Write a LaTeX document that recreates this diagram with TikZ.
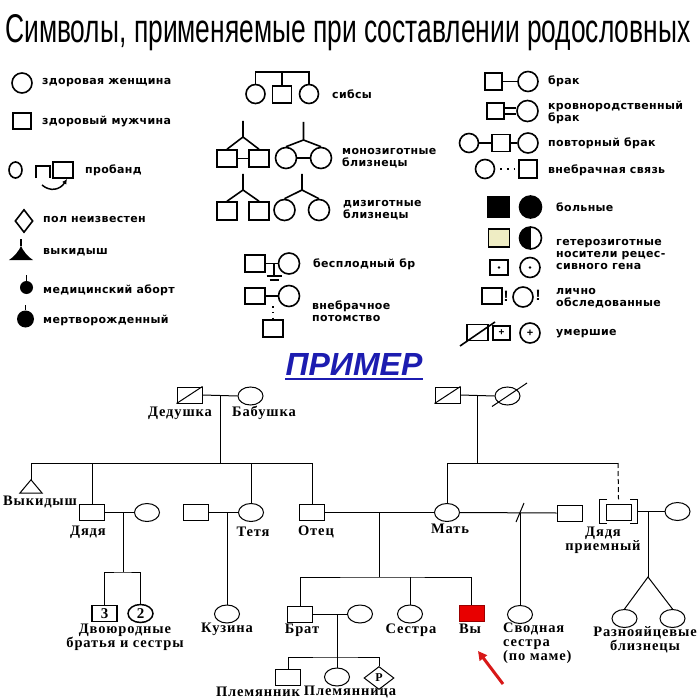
\documentclass[tikz,border=0pt]{standalone}
\usepackage{fontspec}
\usepackage{graphicx}
\usetikzlibrary{positioning,arrows.meta,shapes.geometric}
\setmainfont{Liberation Serif}
\newfontfamily\titlefont{Liberation Sans}
\newfontfamily\legendfont[LetterSpace=3]{DejaVu Sans}
\newfontfamily\pedfont[LetterSpace=6]{Liberation Serif}
\definecolor{ExBlue}{HTML}{1C1CB0}
\definecolor{YouRed}{HTML}{E80000}
\definecolor{ArrRed}{HTML}{D81818}
\definecolor{HetYellow}{HTML}{EFEDC4}

\begin{document}
\begin{tikzpicture}[x=1pt, y=-1pt,
  lgline/.style={line width=1.6pt},
  lgmale/.style={draw, line width=1.6pt, rectangle, minimum width=19pt, minimum height=17pt, inner sep=0pt},
  lgfemale/.style={draw, line width=1.6pt, circle, minimum size=20pt, inner sep=0pt},
  lgtext/.style={anchor=west, align=left, inner sep=0pt, font=\legendfont\bfseries\fontsize{11}{12}\selectfont},
  male/.style={draw, line width=1pt, rectangle, minimum width=25pt, minimum height=16pt, inner sep=0pt},
  female/.style={draw, line width=1pt, ellipse, minimum width=25pt, minimum height=18pt, inner sep=0pt},
  pedtext/.style={align=center, inner sep=0pt, font=\pedfont\bfseries\fontsize{14.5}{14}\selectfont},
  kin/.style={line width=1pt}
]
\fill[white] (0,0) rectangle (700,700);
\useasboundingbox (0,0) rectangle (700,700);

% title
\node[anchor=base west, inner sep=0pt] (title) at (5,43)
  {\resizebox{685pt}{28pt}{\titlefont Символы, применяемые при составлении родословных}};

% --- left column of symbols
\node[lgfemale] (hw) at (22,83) {};
\node[lgtext] (hwt) at (42,83) {здоровая женщина};
\node[lgmale, minimum width=18pt, minimum height=16pt] (hm) at (22,121) {};
\node[lgtext] (hmt) at (42,121) {здоровый мужчина};

\node[draw, line width=1.6pt, ellipse, minimum width=13pt, minimum height=16pt, inner sep=0pt] (pbc) at (15.5,170) {};
\node[minimum width=14pt, minimum height=12pt, inner sep=0pt] (pbb) at (43,172) {};
\draw[lgline] (pbb.south west) -- (pbb.north west) -- (pbb.north east) -- (pbb.south east);
\node[lgmale, minimum width=20pt, minimum height=16pt] (pbs) at (63,170) {};
\coordinate (pbtail) at (42,185);
\coordinate (pbhead) at (67,179);
\draw[line width=1.5pt, -{Latex[length=5pt,width=5pt]}] (pbtail) .. controls (50,192) and (60,190) .. (pbhead);
\node[lgtext] (pbt) at (85,170) {пробанд};

\node[draw, line width=1.6pt, diamond, minimum width=18pt, minimum height=23pt, inner sep=0pt] (unk) at (24,221) {};
\node[lgtext] (unkt) at (43,219) {пол неизвестен};

\node[minimum width=24pt, minimum height=14pt, inner sep=0pt] (mis) at (21,253) {};
\fill (mis.south west) .. controls (14,257) and (19,251) .. (mis.north)
  .. controls (23,251) and (28,257) .. (mis.south east) -- cycle;
\coordinate (mistop) at (21,239);
\draw[line width=1.3pt] (mis.north) -- (mistop);
\node[lgtext] (mist) at (43,252) {выкидыш};

\node[circle, fill, minimum size=13pt, inner sep=0pt] (abo) at (26.5,287.5) {};
\coordinate (abotop) at (26.5,275);
\draw[line width=1.3pt] (abo.north) -- (abotop);
\node[lgtext] (abot) at (43,290) {медицинский аборт};

\node[circle, fill, minimum size=17pt, inner sep=0pt] (stb) at (25.5,319) {};
\coordinate (stbtop) at (25.5,305);
\draw[line width=1.3pt] (stb.north) -- (stbtop);
\node[lgtext] (stbt) at (43,320) {мертворожденный};

% --- middle column of symbols
\node[lgfemale, minimum size=19pt] (sb1) at (255.5,94) {};
\node[lgmale] (sb2) at (282,94.5) {};
\node[lgfemale, minimum size=19pt] (sb3) at (309,94) {};
\coordinate (sbtop) at (282,72);
\draw[lgline] (sb1.north) |- (sbtop) -| (sb3.north);
\draw[lgline] (sb2.north) -- (sbtop);
\node[lgtext] (sbt) at (332,94) {сибсы};

\node[lgmale, minimum width=20pt] (mz1) at (227,158.5) {};
\node[lgmale, minimum width=20pt] (mz2) at (259,158.5) {};
\coordinate (mzm) at (243,121);
\coordinate (mzma) at (243,137);
\draw[lgline] (mzm) -- (mzma) -- (mz1.north);
\draw[lgline] (mzma) -- (mz2.north);
\draw[lgline] (mz1.east) -- (mz2.west);
\node[lgfemale, minimum size=21pt] (mz3) at (286,158) {};
\node[lgfemale, minimum size=21pt] (mz4) at (321,158) {};
\coordinate (mzf) at (303.5,122);
\coordinate (mzfa) at (303.5,140);
\draw[lgline] (mzf) -- (mzfa) -- (mz3.north);
\draw[lgline] (mzfa) -- (mz4.north);
\draw[lgline] (mz3.east) -- (mz4.west);
\node[lgtext] (mzt) at (342,158) {монозиготные\\близнецы};

\node[lgmale, minimum width=20pt, minimum height=18pt] (dz1) at (227,211) {};
\node[lgmale, minimum width=20pt, minimum height=18pt] (dz2) at (259,211) {};
\coordinate (dzm) at (243,174);
\coordinate (dzma) at (243,190);
\draw[lgline] (dzm) -- (dzma) -- (dz1.north);
\draw[lgline] (dzma) -- (dz2.north);
\node[lgfemale, minimum size=21pt] (dz3) at (284.5,210) {};
\node[lgfemale, minimum size=21pt] (dz4) at (319,210) {};
\coordinate (dzf) at (302,174);
\coordinate (dzfa) at (302,190);
\draw[lgline] (dzf) -- (dzfa) -- (dz3.north);
\draw[lgline] (dzfa) -- (dz4.north);
\node[lgtext] (dzt) at (343,210) {дизиготные\\близнецы};

\node[lgmale, minimum width=20pt] (cl1) at (255,263.5) {};
\node[lgfemale, minimum size=21pt] (cl2) at (289,263.5) {};
\coordinate (clm) at (274,263.5);
\coordinate (clg) at (274,276);
\draw[lgline] (cl1.east) -- (cl2.west);
\draw[lgline] (clm) -- (clg);
\draw[lgline] (266.5,276) -- (281.5,276);
\draw[lgline] (269.5,280) -- (278.5,280);
\node[lgtext] (clt) at (313,264) {бесплодный бр};

\node[lgmale, minimum width=20pt, minimum height=16pt] (il1) at (255,296) {};
\node[lgfemale, minimum size=21pt] (il2) at (289,296) {};
\node[lgmale, minimum width=20pt] (il3) at (273,328.5) {};
\coordinate (ilm) at (273,296);
\draw[lgline] (il1.east) -- (il2.west);
\draw[lgline, dash pattern=on 1.6pt off 4.2pt] (273,306) -- (il3.north);
\node[lgtext] (ilt) at (312,311) {внебрачное\\потомство};

% --- right column of symbols
\node[lgmale, minimum width=17pt] (mr1) at (493.5,81.5) {};
\node[lgfemale] (mr2) at (528,81.5) {};
\draw[lgline] (mr1.east) -- (mr2.west);
\node[lgtext] (mrt) at (548,81) {брак};

\node[lgmale, minimum width=17pt, minimum height=16pt] (cg1) at (495.5,111) {};
\node[lgfemale, minimum size=21pt] (cg2) at (527.5,111) {};
\draw[lgline] ([yshift=3pt]cg1.east) -- ([yshift=3pt]cg2.west);
\draw[lgline] ([yshift=-3pt]cg1.east) -- ([yshift=-3pt]cg2.west);
\node[lgtext] (cgt) at (548,112) {кровнородственный\\брак};

\node[lgfemale, minimum size=19pt] (rm1) at (469,143) {};
\node[lgmale, minimum width=18pt] (rm2) at (501,143) {};
\node[lgfemale] (rm3) at (528,143) {};
\draw[lgline] (rm1.east) -- (rm2.west);
\draw[lgline] (rm2.east) -- (rm3.west);
\node[lgtext] (rmt) at (548,143) {повторный брак};

\node[lgfemale, minimum size=19pt] (em1) at (485,169) {};
\node[lgmale, minimum width=18pt, minimum height=18pt] (em2) at (528,169) {};
\draw[lgline, dash pattern=on 1.6pt off 5pt] ([xshift=5pt]em1.east) -- (em2.west);
\node[lgtext] (emt) at (548,170) {внебрачная связь};

\node[lgmale, fill, minimum width=21pt, minimum height=20pt] (af1) at (498.5,207) {};
\node[lgfemale, fill, minimum size=22pt] (af2) at (530.5,207) {};
\node[lgtext] (aft) at (556,207) {больные};

\node[lgmale, fill=HetYellow, minimum width=21pt, minimum height=18pt,
  path picture={\fill (path picture bounding box.south west) rectangle (path picture bounding box.north);}] (hz1) at (499,238) {};
\node[lgfemale, minimum size=22pt,
  path picture={\fill (path picture bounding box.south west) rectangle (path picture bounding box.north);}] (hz2) at (530.5,238) {};
\node[lgtext] (hzt) at (556,254) {гетерозиготные\\носители рецес-\\сивного гена};

\node[lgmale, minimum width=18pt, minimum height=15pt] (cr1) at (499,267.5) {};
\node[lgfemale] (cr2) at (530,267.5) {};
\fill (cr1.center) circle (1.4pt);
\fill (cr2.center) circle (1.4pt);

\node[lgmale, minimum width=20pt, minimum height=16pt] (ex1) at (492,296) {};
\node[font=\titlefont\bfseries\fontsize{15}{15}\selectfont, inner sep=0pt] (ex1m) at (506,296) {!};
\node[lgfemale, minimum size=20pt] (ex2) at (523,297) {};
\node[font=\titlefont\bfseries\fontsize{15}{15}\selectfont, inner sep=0pt] (ex2m) at (538,295) {!};
\node[lgtext] (ext) at (556,298.5) {лично\\обследованные};

\node[lgmale, minimum width=21pt, minimum height=16pt] (dc1) at (477.5,332.5) {};
\coordinate (dcs1) at (460,346);
\coordinate (dcs2) at (495,322);
\draw[lgline] (dcs1) -- (dcs2);
\node[lgmale, minimum width=17pt, minimum height=14pt, font=\titlefont\bfseries\fontsize{10}{10}\selectfont] (dc2) at (501.5,333) {+};
\node[lgfemale, font=\titlefont\bfseries\fontsize{11}{11}\selectfont] (dc3) at (530,333) {+};
\node[lgtext] (dct) at (556,334) {умершие};

% --- example
\node[font=\titlefont\bfseries\itshape\fontsize{32}{32}\selectfont, text=ExBlue, inner sep=0pt] (example) at (354,364) {ПРИМЕР};
\draw[ExBlue, line width=2pt] ([yshift=-4pt]example.south west) -- ([yshift=-4pt]example.south east);

% grandparents
\node[male] (gpaF) at (189.5,395) {};
\draw[kin] (gpaF.south west) -- (gpaF.north east);
\node[female] (gmaF) at (250.5,396) {};
\node[pedtext] (gpaFt) at (180,413) {Дедушка};
\node[pedtext] (gmaFt) at (264,413) {Бабушка};
\coordinate (gF) at (220,395);
\coordinate (sibF) at (220,463);
\draw[kin] (gpaF.east) -- (gmaF.west);
\draw[kin] (gF) -- (sibF);

\node[male] (gpaM) at (447.5,395) {};
\draw[kin] (gpaM.south west) -- (gpaM.north east);
\node[female] (gmaM) at (507.5,396) {};
\draw[kin] (492,406.5) -- (527,383);
\coordinate (gM) at (477,395);
\coordinate (sibM) at (477,463);
\draw[kin] (gpaM.east) -- (gmaM.west);
\draw[kin] (gM) -- (sibM);

% father's siblings
\node[minimum width=22pt, minimum height=13pt, inner sep=0pt] (miscar) at (31,486.5) {};
\draw[kin] (miscar.south west) -- (miscar.north) -- (miscar.south east) -- cycle;
\node[pedtext] (miscart) at (40,502) {Выкидыш};
\node[male] (uncle) at (92,512.5) {};
\node[female] (uncleW) at (147,512.5) {};
\node[pedtext] (unclet) at (88,532) {Дядя};
\node[male] (auntH) at (195.5,512.5) {};
\node[female] (aunt) at (251,512.5) {};
\node[pedtext] (auntt) at (253,532) {Тетя};
\node[male] (father) at (312,512.5) {};
\node[pedtext] (fathert) at (316,532) {Отец};
\coordinate (sibFa) at (31,463);
\coordinate (sibFb) at (312,463);
\draw[kin] (sibFa) -- (sibFb);
\draw[kin] (sibFa) -- (miscar.north);
\draw[kin] (uncle.north |- sibF) -- (uncle.north);
\draw[kin] (aunt.north |- sibF) -- (aunt.north);
\draw[kin] (sibFb) -- (father.north);

% cousins
\draw[kin] (uncle.east) -- (uncleW.west);
\coordinate (uc) at (123,512.5);
\coordinate (ucs) at (123,572);
\node[male, line width=1.5pt, font=\bfseries\fontsize{15}{15}\selectfont] (cous3) at (104.5,613.5) {3};
\node[female, line width=1.5pt, font=\bfseries\fontsize{15}{15}\selectfont] (cous2) at (140.5,613.5) {2};
\draw[kin] (uc) -- (ucs);
\draw[kin] (cous3.north) |- (ucs) -| (cous2.north);
\node[pedtext] (coust) at (125,637) {Двоюродные\\братья и сестры};

\draw[kin] (auntH.east) -- (aunt.west);
\node[female] (kuz) at (227,614) {};
\coordinate (ac) at (227,512.5);
\draw[kin] (ac) -- (kuz.north);
\node[pedtext] (kuzt) at (227,629) {Кузина};

% parents
\node[female] (mother) at (447,512.5) {};
\node[pedtext] (mothert) at (450,529) {Мать};
\draw[kin] (father.east) -- (mother.west);
\coordinate (sibMb) at (618,463);
\draw[kin] (mother.north |- sibM) -- (sibMb);
\draw[kin] (mother.north |- sibM) -- (mother.north);

% adopted uncle
\node[minimum width=37pt, minimum height=24pt, inner sep=0pt] (adopt) at (618.5,511.5) {};
\node[male] (adoptSq) at (618.5,512.5) {};
\draw[kin] ([xshift=7pt]adopt.north west) -- (adopt.north west) -- (adopt.south west) -- ([xshift=7pt]adopt.south west);
\draw[kin] ([xshift=-7pt]adopt.north east) -- (adopt.north east) -- (adopt.south east) -- ([xshift=-7pt]adopt.south east);
\draw[kin, dash pattern=on 5pt off 3pt] (sibMb) -- (adopt.north);
\node[pedtext] (adoptt) at (603,540) {Дядя\\приемный};
\node[female] (adoptW) at (677.5,511.5) {};
\draw[kin] (adopt.east) -- (adoptW.west);
\coordinate (adc) at (648,511.5);
\coordinate (adcs) at (648,577);
\node[female] (twin1) at (624.5,618.5) {};
\node[female] (twin2) at (672.5,618.5) {};
\draw[kin] (adc) -- (adcs);
\draw[kin] (twin1.north) -- (adcs) -- (twin2.north);
\node[pedtext] (twint) at (645,640) {Разнояйцевые\\близнецы};

% mother's second marriage
\node[male] (stepF) at (569.5,513) {};
\draw[kin] (mother.east) -- (stepF.west);
\coordinate (mc2) at (520,512.5);
\draw[kin] (516,522) -- (524,503);
\node[female] (halfS) at (520,614.5) {};
\draw[kin] (mc2) -- (halfS.north);
\node[pedtext, anchor=west, align=left] (halfSt) at (503,643) {Сводная\\сестра\\(по маме)};

% children
\coordinate (fm) at (379,512.5);
\coordinate (fms) at (379,577);
\node[male] (brother) at (300,614) {};
\node[female] (sister) at (410,614) {};
\node[male, fill=YouRed, draw=red!60!black] (you) at (471.5,613.5) {};
\draw[kin] (fm) -- (fms);
\draw[kin] (brother.north) |- (fms) -| (you.north);
\draw[kin] (sister.north |- fms) -- (sister.north);
\node[pedtext] (brothert) at (302,630) {Брат};
\node[pedtext] (sistert) at (411,630) {Сестра};
\node[pedtext] (yout) at (470,629) {Вы};
\coordinate (arrtail) at (503,684);
\coordinate (arrhead) at (478,651);
\draw[ArrRed, line width=3pt, -{Triangle[length=9pt,width=9pt]}] (arrtail) -- (arrhead);

% brother's family
\node[female] (brotherW) at (360,614) {};
\draw[kin] (brother.east) -- (brotherW.west);
\node[male] (nephew) at (288,677) {};
\node[female] (niece) at (337,677) {};
\node[draw, line width=1pt, diamond, minimum width=30pt, minimum height=23pt, inner sep=0pt, font=\bfseries\fontsize{12}{12}\selectfont] (unkn) at (379,678) {P};
\coordinate (bc) at (337,614);
\coordinate (bcs) at (337,657);
\draw[kin] (bc) -- (niece.north);
\draw[kin] (nephew.north) |- (bcs) -| (unkn.north);
\node[pedtext] (nephewt) at (258,692) {Племянник};
\node[pedtext] (niecet) at (350,692) {Племянница};
\end{tikzpicture}
\end{document}
